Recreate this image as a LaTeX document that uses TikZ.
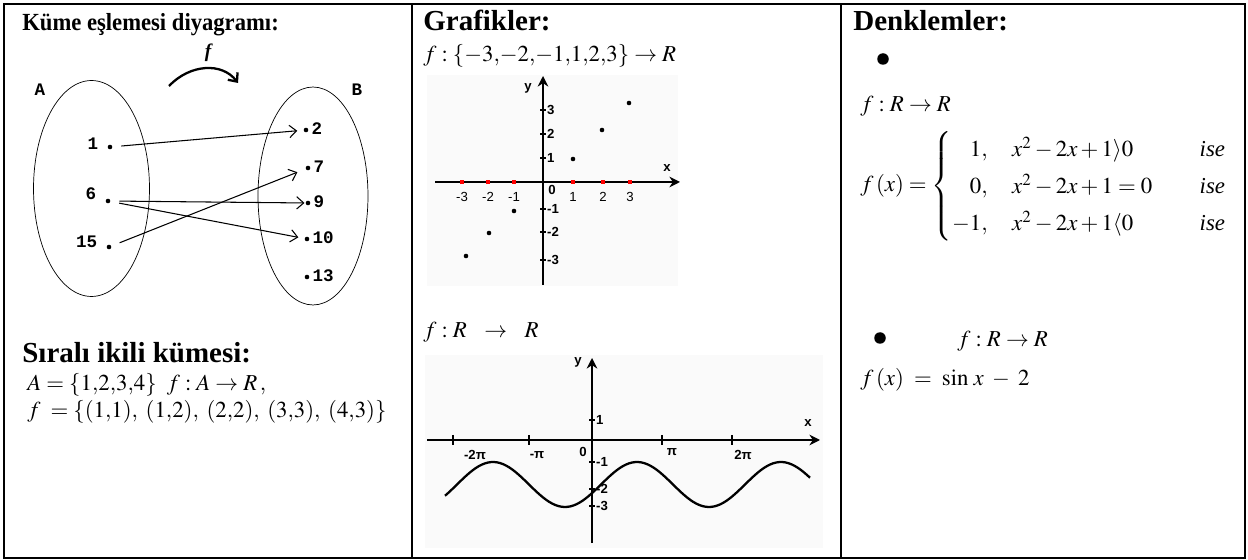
\documentclass[tikz,border=0pt]{standalone}
\usepackage{mathptmx}
\usepackage{fontspec}
\setmainfont{Liberation Serif}
\setsansfont{Liberation Sans}
\setmonofont{Liberation Mono}
\usepackage{tikz}
\usetikzlibrary{arrows.meta,positioning,shapes.geometric}

\begin{document}
\begin{tikzpicture}[x=0.02cm, y=-0.02cm,
    head/.style={anchor=base west, inner sep=0pt, font=\fontsize{16.5}{18}\selectfont\bfseries},
    eq/.style={anchor=base west, inner sep=0pt, font=\fontsize{13}{15}\selectfont},
    elt/.style={inner sep=1pt, font=\ttfamily\bfseries\fontsize{10}{11}\selectfont},
    elem/.style={circle, fill, inner sep=0pt, minimum size=2.6pt},
    bullet/.style={circle, fill, inner sep=0pt, minimum size=2.3mm},
    maparrow/.style={-{Straight Barb[length=4pt,width=7pt]}, semithick},
    axline/.style={line width=1.1pt, -{Stealth[length=6pt,width=6pt]}},
    lbl/.style={inner sep=1pt, font=\sffamily\fontsize{7.5}{8}\selectfont},
    blbl/.style={lbl, font=\sffamily\bfseries\fontsize{7.5}{8}\selectfont}
]
\useasboundingbox (0,0) rectangle (1248,560);

% table
\draw[line width=1.2pt] (4,4) rectangle (1245,558);
\draw[line width=1.2pt] (412,4) -- (412,558) (841,4) -- (841,558);

% column 1: set mapping
\node[head, font=\fontsize{14}{16}\selectfont\bfseries] (t1) at (22,31) {\scalebox{0.92}[1]{Küme eşlemesi diyagramı:}};
\node[draw, ellipse, minimum width=2.32cm, minimum height=4.32cm] (setA) at (91.5,188.5) {};
\node[draw, ellipse, minimum width=2.2cm, minimum height=4.36cm] (setB) at (313,196) {};
\node[elt] at (40,90) {A};
\node[elt] at (357,90) {B};

\node[elem] (a1) at (110,147) {};
\node[elem] (a6) at (108,201) {};
\node[elem] (a15) at (109,247) {};
\node[elt, left=4pt of a1, yshift=2pt] {1};
\node[elt, left=4pt of a6, yshift=4pt] {6};
\node[elt, left=4pt of a15, yshift=3pt] {15};

\node[elem] (b2) at (306,130) {};
\node[elem] (b7) at (308,168) {};
\node[elem] (b9) at (308,203) {};
\node[elem] (b10) at (307,239) {};
\node[elem] (b13) at (307,277) {};
\foreach \n in {2,7,9,10,13} {
    \node[elt, right=0.5pt of b\n, yshift=1pt] {\n};
}

\draw[maparrow, shorten <=5pt, shorten >=3.5pt] (a1) -- (b2);
\draw[maparrow, shorten <=5pt, shorten >=0.5pt] (a6) -- (b9);
\draw[maparrow, shorten <=5pt, shorten >=3.5pt] (a6) -- (b10);
\draw[maparrow, shorten <=5pt, shorten >=5pt] (a15) -- (b7);

% f arrow
\coordinate (fs) at (169,86);
\coordinate (fe) at (238,83);
\draw[line width=1.3pt, -{Straight Barb[length=4pt,width=7pt]}] (fs) .. controls (190,64) and (222,62) .. (fe);
\node[font=\bfseries\itshape\fontsize{11}{12}\selectfont] (fname) at (208,53) {f};

% column 1: ordered pairs
\node[head] (t2) at (22,363) {Sıralı ikili kümesi:};
\node[eq] at (27,391) {$A=\{1{,}2{,}3{,}4\}\;\; f:A\rightarrow R\,,$};
\node[eq] at (27,418) {$f\;=\{(1{,}1),\;(1{,}2),\;(2{,}2),\;(3{,}3),\;(4{,}3)\}$};

% column 2: graphs
\node[head] (t3) at (423,31) {Grafikler:};
\node[eq] at (423,62) {$f:\{{-3}{,}{-2}{,}{-1}{,}1{,}2{,}3\}\rightarrow R$};

\fill[black!2] (427,75) rectangle (678,286);
\draw[axline] (435,182) -- (680,182);
\draw[axline] (543,285) -- (543,76);
\node[blbl] at (528,88) {y};
\node[blbl] at (667,168) {x};
\node[blbl] at (552,190) {0};
\foreach \x/\t in {462/-3,488/-2,514/-1,573/1,603/2,630/3} {
    \fill[red] (\x-2,180) rectangle (\x+2,184);
    \node[lbl] at (\x,197) {\t};
}
\foreach \y/\t in {110/3,134/2,158/1,209/-1,232/-2,260/-3} {
    \draw[thick] (540,\y) -- (546,\y);
    \node[blbl, anchor=west] at (545,\y) {\t};
}
\foreach \x/\y in {573/159,602/130,629/103,514/211,489/233,466/256} {
    \fill (\x,\y) circle [radius=1.3pt];
}

\node[eq] at (423,338) {$f:R\hspace{7pt}\rightarrow\hspace{7pt}R$};
\fill[black!2] (425,355) rectangle (823,548);
\draw[axline] (427,440) -- (820,440);
\draw[axline] (592,543) -- (592,358);
\node[blbl] at (578,362) {y};
\node[blbl] at (808,423) {x};
\foreach \x in {453,529,662,732} {
    \draw[thick] (\x,435) -- (\x,445);
}
\node[blbl] at (475,455) {-2π};
\node[blbl] at (537,455) {-π};
\node[blbl] at (583,452) {0};
\node[blbl] at (672,452) {π};
\node[blbl] at (743,455) {2π};
\foreach \y/\t in {420/1,462/-1,489/-2,506/-3} {
    \draw[thick] (589,\y) -- (595,\y);
    \node[blbl, anchor=west] at (594,\y) {\t};
}
\draw[line width=1.3pt, domain=445:810, samples=120, smooth]
    plot (\x, {484.5 - 22.5*sin(2.5*(\x-601))});

% column 3: equations
\node[head] (t4) at (853,31) {Denklemler:};
\node[bullet] (bul1) at (883,59) {};
\node[eq] at (860,112) {$f:R\rightarrow R$};
\node[eq] at (860,192) {$f\,(x)=\left\{\renewcommand{\arraystretch}{1.4}\begin{array}{@{}r@{\hspace{14pt}}l@{\hspace{27pt}}l}
    1, & x^2-2x+1\rangle 0 & \textit{ise}\\
    0, & x^2-2x+1=0 & \textit{ise}\\
    -1, & x^2-2x+1\langle 0 & \textit{ise}
    \end{array}\right.$};
\node[bullet] (bul2) at (880,338) {};
\node[eq] at (957,347) {$f:R\rightarrow R$};
\node[eq] at (860,386) {$f\,(x)\;=\;\sin\,x\;-\;2$};

\end{tikzpicture}
\end{document}
